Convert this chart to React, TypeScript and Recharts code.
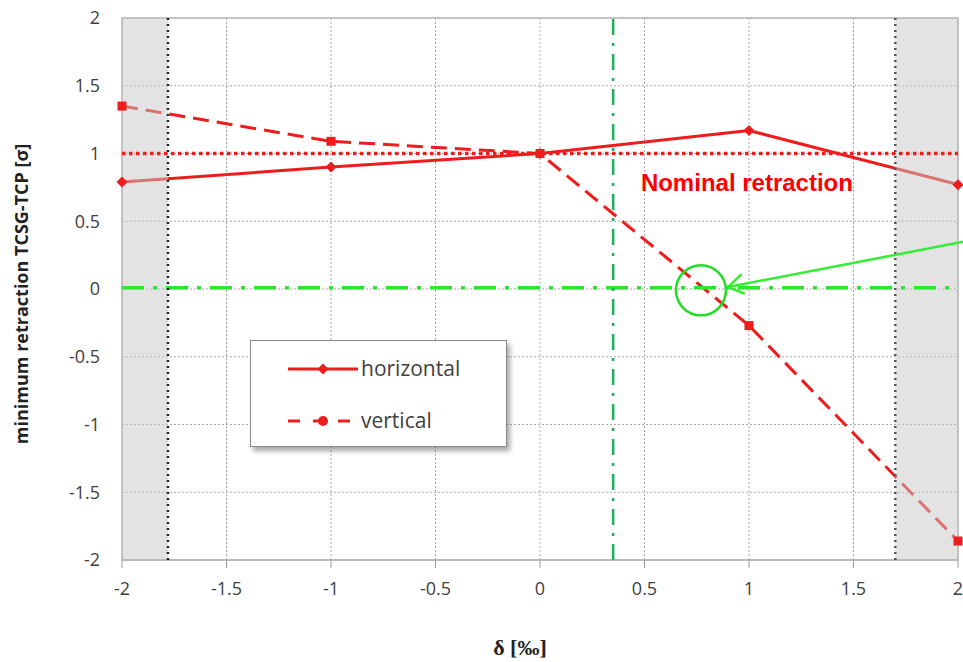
import {
  LineChart, Line, XAxis, YAxis, CartesianGrid, ReferenceArea,
  ReferenceLine, ReferenceDot, Label,
} from 'recharts'

const DELTA = [-2, -1, 0, 1, 2]
const HORIZONTAL = [0.79, 0.9, 1.0, 1.17, 0.77]
const VERTICAL = [1.35, 1.09, 1.0, -0.27, -1.86]

const X_TICKS = [-2, -1.5, -1, -0.5, 0, 0.5, 1, 1.5, 2]
const Y_TICKS = [-2, -1.5, -1, -0.5, 0, 0.5, 1, 1.5, 2]

// limits and annotations (data coords)
const LEFT_LIMIT = -1.78
const RIGHT_LIMIT = 1.7
const NOMINAL = 1
const ZERO_LINE = 0.01
const CROSS_X = 0.35
const CIRCLE = { x: 0.77, y: -0.01 }
const ARROW_START = { x: 2.03, y: 0.35 }
const ARROW_TIP = { x: 0.9, y: 0.015 }
const ARROW_WING_A = { x: 0.98, y: -0.035 }
const ARROW_WING_B = { x: 0.965, y: 0.11 }

const RED = '#ee1c1c'
const TICK_FONT = '"Open Sans", "Noto Sans", sans-serif'
const TITLE_FONT = '"Liberation Sans", Arial, sans-serif'

// shading sits above the series lines but under markers and guide lines
const Z_SHADE = 1500
const Z_TOP = 1700

const rows = DELTA.map((d, i) => ({ d, h: HORIZONTAL[i], v: VERTICAL[i] }))

/* eslint-disable @typescript-eslint/no-explicit-any */
function Diamond({ cx, cy }: any) {
  if (cx == null || cy == null) return null
  return <path d={`M${cx},${cy - 5.5}L${cx + 5.5},${cy}L${cx},${cy + 5.5}L${cx - 5.5},${cy}Z`} fill={RED} />
}

function Square({ cx, cy }: any) {
  if (cx == null || cy == null) return null
  return <rect x={cx - 4.5} y={cy - 4.5} width={9} height={9} fill={RED} />
}

function LegendBox() {
  return (
    <div style={{
      position: 'absolute', left: 250, top: 340,
      width: 255, height: 105, background: '#fff',
      border: '1.5px solid #8a8a8a',
      boxShadow: '3px 4px 5px rgba(0,0,0,0.35)',
    }}>
      <svg width={255} height={105} style={{ display: 'block' }}>
        <line x1={37} y1={28} x2={107} y2={28} stroke={RED} strokeWidth={3} />
        <Diamond cx={72} cy={28} />
        <text x={110} y={35} fill="#404040" fontSize={21} fontFamily={TICK_FONT}>horizontal</text>
        <line x1={37} y1={80} x2={107} y2={80} stroke={RED} strokeWidth={3} strokeDasharray="12 13" />
        <circle cx={72} cy={80} r={5} fill={RED} />
        <text x={110} y={87} fill="#404040" fontSize={21} fontFamily={TICK_FONT}>vertical</text>
      </svg>
    </div>
  )
}

export default function App() {
  return (
    <div style={{ position: 'absolute', left: 0, top: 0, width: 963, height: 662, background: '#fff' }}>
      <LineChart width={963} height={662} data={rows}
                 margin={{ top: 18, right: 5, left: 0, bottom: 0 }}>
        <CartesianGrid stroke="#a8a8a8" strokeDasharray="2 2" />
        <XAxis type="number" dataKey="d" domain={[-2, 2]} ticks={X_TICKS}
          allowDataOverflow height={102}
          stroke="#9a9a9a" tickSize={8} tickMargin={14}
          tick={{ fill: '#404040', fontSize: 18, fontFamily: TICK_FONT }}>
          <Label content={({ viewBox }: any) => (
            <text x={viewBox.x + viewBox.width / 2 - 20} y={viewBox.y + 95}
                  textAnchor="middle" fontSize={22} fontWeight={700}
                  fontFamily='"Liberation Serif", "DejaVu Serif", serif' fill="#222">δ [‰]</text>
          )} />
        </XAxis>
        <YAxis type="number" domain={[-2, 2]} ticks={Y_TICKS} allowDataOverflow
          width={122} axisLine={false} tickLine={false} tickSize={0} tickMargin={22}
          tick={{ fill: '#404040', fontSize: 18, fontFamily: TICK_FONT }}>
          <Label content={({ viewBox }: any) => {
            const x = viewBox.x + 28
            const y = viewBox.y + viewBox.height / 2 + 5
            return (
              <text x={x} y={y} transform={`rotate(-90 ${x} ${y})`}
                    textAnchor="middle" fontSize={18} fontWeight={700}
                    fontFamily={TICK_FONT} fill="#222">
                minimum retraction TCSG-TCP  [σ]
              </text>
            )
          }} />
        </YAxis>

        <Line dataKey="h" stroke={RED} strokeWidth={3} dot={false}
              activeDot={false} isAnimationActive={false} />
        <Line dataKey="v" stroke={RED} strokeWidth={3} strokeDasharray="16 8"
              dot={false} activeDot={false} isAnimationActive={false} />

        <ReferenceArea x1={-2} x2={LEFT_LIMIT} y1={-2} y2={2} zIndex={Z_SHADE}
                       fill="#c8c8c8" fillOpacity={0.5} stroke="none" />
        <ReferenceArea x1={RIGHT_LIMIT} x2={2} y1={-2} y2={2} zIndex={Z_SHADE}
                       fill="#c8c8c8" fillOpacity={0.5} stroke="none" />
        <ReferenceArea x1={-2} x2={2} y1={-2} y2={2} zIndex={Z_TOP}
                       fill="none" stroke="#b8b8b8" strokeWidth={1.5} />

        <ReferenceLine y={NOMINAL} stroke={RED} strokeWidth={3.5} strokeDasharray="3.5 3.5" zIndex={Z_TOP} />
        <ReferenceLine y={ZERO_LINE} stroke="#2ee62e" strokeWidth={3.5} strokeDasharray="22 9 4 9" zIndex={Z_TOP} />
        <ReferenceLine x={CROSS_X} stroke="#1fae5e" strokeWidth={2.5} strokeDasharray="16 8 3 8" zIndex={Z_TOP} />
        <ReferenceLine x={LEFT_LIMIT} stroke="#222" strokeWidth={2.5} strokeDasharray="2 4" zIndex={Z_TOP} />
        <ReferenceLine x={RIGHT_LIMIT} stroke="#555" strokeWidth={2.5} strokeDasharray="2 4" zIndex={Z_TOP} />

        {rows.map((r) => (
          <ReferenceDot key={`h-${r.d}`} x={r.d} y={r.h} zIndex={Z_TOP}
                        ifOverflow="visible" shape={<Diamond />} />
        ))}
        {rows.map((r) => (
          <ReferenceDot key={`v-${r.d}`} x={r.d} y={r.v} zIndex={Z_TOP}
                        ifOverflow="visible" shape={<Square />} />
        ))}

        <ReferenceDot x={CIRCLE.x} y={CIRCLE.y} r={25} fill="none" zIndex={Z_TOP}
                      stroke="#22dd22" strokeWidth={2.5} />
        <ReferenceLine segment={[ARROW_START, ARROW_TIP]} stroke="#33ee33" zIndex={Z_TOP}
                       strokeWidth={2.5} ifOverflow="visible" />
        <ReferenceLine segment={[ARROW_TIP, ARROW_WING_A]} stroke="#33ee33" zIndex={Z_TOP}
                       strokeWidth={2.5} ifOverflow="visible" />
        <ReferenceLine segment={[ARROW_TIP, ARROW_WING_B]} stroke="#33ee33" zIndex={Z_TOP}
                       strokeWidth={2.5} ifOverflow="visible" />

        <ReferenceDot x={0.99} y={0.79} r={0} ifOverflow="visible" zIndex={Z_TOP}
          shape={({ cx, cy }: any) => (
            <text x={cx} y={cy + 9} textAnchor="middle" fontSize={24}
                  fontWeight={700} fontFamily={TITLE_FONT} fill="#ff0000">
              Nominal retraction
            </text>
          )} />
      </LineChart>
      <LegendBox />
    </div>
  )
}
